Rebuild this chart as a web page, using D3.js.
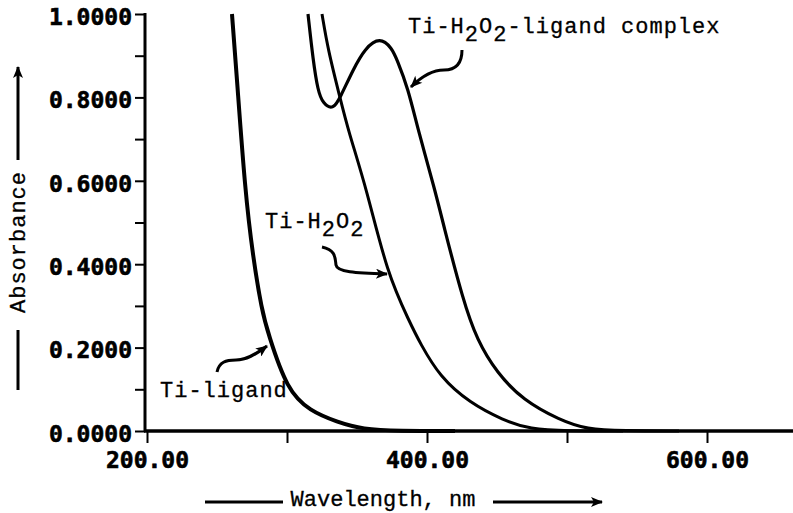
<!DOCTYPE html>
<html lang="en">
<head>
<meta charset="UTF-8">
<script src="https://d3js.org/d3.v7.min.js"></script>
<title>Absorbance spectra</title>
<style>
  body { margin: 0; background: #fff; }
  svg { display: block; }
</style>
</head>
<body>
<script>
  var width = 793;
  var height = 513;

  // spectra: wavelength (nm) and absorbance
  var tiLigandNm  = [260.7, 264.3, 270, 275.7, 282, 286.4, 300, 316.4, 335.7, 354, 380, 420];
  var tiLigandAbs = [1.0, 0.842, 0.578, 0.417, 0.29, 0.235, 0.098, 0.048, 0.022, 0.004, 0, 0];

  var tiH2O2Nm  = [325, 329.3, 337.9, 343.6, 357.1, 371.4, 387.9, 395, 409.3, 430.7, 454.3, 473.6, 500, 540];
  var tiH2O2Abs = [1.0, 0.914, 0.799, 0.722, 0.578, 0.379, 0.259, 0.211, 0.129, 0.067, 0.026, 0.004, 0, 0];

  var complexNm  = [315, 318.6, 322.1, 325.7, 332.9, 337.9, 347.1, 355.7, 366.4, 375, 378.6, 386.4, 393.6, 405.7, 411.4, 425.7, 435.7, 450, 468.6, 495, 514, 540, 580];
  var complexAbs = [1.0, 0.89, 0.815, 0.785, 0.77, 0.799, 0.866, 0.918, 0.945, 0.918, 0.89, 0.823, 0.722, 0.578, 0.499, 0.314, 0.218, 0.139, 0.074, 0.026, 0.004, 0, 0];

  var xTicks = [200, 300, 400, 500, 600];
  var xLabels = [200, 400, 600];
  var yTicks = [0, 0.1, 0.2, 0.3, 0.4, 0.5, 0.6, 0.7, 0.8, 0.9, 1.0];
  var yLabels = [0, 0.2, 0.4, 0.6, 0.8, 1.0];

  var x = d3.scaleLinear().domain([200, 600]).range([147, 707]);
  var y = d3.scaleLinear().domain([0, 1]).range([431, 14]);

  var svg = d3.select("body").append("svg")
    .attr("width", width)
    .attr("height", height);

  var defs = svg.append("defs");
  defs.append("marker")
    .attr("id", "head")
    .attr("viewBox", "0 0 12 10")
    .attr("refX", 11).attr("refY", 5)
    .attr("markerWidth", 13).attr("markerHeight", 10)
    .attr("markerUnits", "userSpaceOnUse")
    .attr("orient", "auto")
    .append("path").attr("d", "M0,0 L12,5 L0,10 L3,5 Z").attr("fill", "#000");

  var tickFont = "'DejaVu Sans Mono', monospace";
  var textFont = "'Liberation Mono', 'Courier New', monospace";

  // y axis
  var yAxis = d3.axisLeft(y)
    .tickValues(yTicks)
    .tickSizeInner(10).tickSizeOuter(0).tickPadding(3)
    .tickFormat(function (d) {
      return yLabels.some(function (v) { return Math.abs(v - d) < 1e-9; }) ? d3.format(".4f")(d) : "";
    });
  var gy = svg.append("g").attr("transform", "translate(145,0)").call(yAxis);
  gy.select(".domain").remove();
  gy.selectAll(".tick line").attr("stroke", "#000").attr("stroke-width", 2);
  gy.selectAll(".tick text")
    .attr("font-family", tickFont).attr("font-weight", "bold")
    .attr("font-size", 23).attr("fill", "#000").attr("dy", "0.45em")
    .attr("stroke", "#000").attr("stroke-width", 0.6);

  // x axis
  var xAxis = d3.axisBottom(x)
    .tickValues(xTicks)
    .tickSizeInner(12).tickSizeOuter(0).tickPadding(9)
    .tickFormat(function (d) { return xLabels.indexOf(d) >= 0 ? d3.format(".2f")(d) : ""; });
  var gx = svg.append("g").attr("transform", "translate(0," + y(0) + ")").call(xAxis);
  gx.select(".domain").remove();
  gx.selectAll(".tick line").attr("stroke", "#000").attr("stroke-width", 2);
  gx.selectAll(".tick text")
    .attr("font-family", tickFont).attr("font-weight", "bold")
    .attr("font-size", 23).attr("fill", "#000")
    .attr("stroke", "#000").attr("stroke-width", 0.6);

  // axis lines
  svg.append("line")
    .attr("x1", 145).attr("x2", 145).attr("y1", y(1) - 1).attr("y2", y(0) + 1)
    .attr("stroke", "#000").attr("stroke-width", 3);
  svg.append("line")
    .attr("x1", 144).attr("x2", width).attr("y1", y(0)).attr("y2", y(0))
    .attr("stroke", "#000").attr("stroke-width", 3.5);

  // curves
  var line = d3.line()
    .x(function (d) { return x(d[0]); })
    .y(function (d) { return y(d[1]); })
    .curve(d3.curveBasis);

  var series = [
    { nm: tiLigandNm, abs: tiLigandAbs, w: 4 },
    { nm: tiH2O2Nm, abs: tiH2O2Abs, w: 3 },
    { nm: complexNm, abs: complexAbs, w: 3.2 }
  ];
  series.forEach(function (s) {
    svg.append("path")
      .datum(d3.zip(s.nm, s.abs))
      .attr("d", line)
      .attr("fill", "none")
      .attr("stroke", "#000")
      .attr("stroke-width", s.w)
      .attr("stroke-linejoin", "round");
  });

  // annotations
  function label(xp, yp, parts) {
    var t = svg.append("text")
      .attr("x", xp).attr("y", yp)
      .attr("font-family", textFont).attr("font-size", 22)
      .attr("letter-spacing", 1).attr("fill", "#000")
      .attr("stroke", "#000").attr("stroke-width", 0.3);
    parts.forEach(function (p) {
      t.append("tspan").attr("dy", p[1]).text(p[0]);
    });
  }
  label(408, 33, [["Ti-H", 0], ["2", 8], ["O", -8], ["2", 8], ["-ligand complex", -8]]);
  label(265, 228, [["Ti-H", 0], ["2", 8], ["O", -8], ["2", 8]]);
  label(160, 397, [["Ti-ligand", 0]]);

  var arrows = [
    "M462,50 C462,63 456,70 444,70 C432,70 421,77 411,87",
    "M322,247 C336,250 335,258 336,265 C337,272 355,273 387,274",
    "M217,372 C219,362 226,360 236,360 C246,360 255,355 267,346"
  ];
  arrows.forEach(function (d) {
    svg.append("path").attr("d", d)
      .attr("fill", "none").attr("stroke", "#000").attr("stroke-width", 3)
      .attr("marker-end", "url(#head)");
  });

  // axis titles
  svg.append("text")
    .attr("x", 383).attr("y", 506)
    .attr("text-anchor", "middle")
    .attr("font-family", textFont).attr("font-size", 22).attr("letter-spacing", 0)
    .attr("stroke", "#000").attr("stroke-width", 0.3)
    .text("Wavelength, nm");
  svg.append("line").attr("x1", 205).attr("x2", 283).attr("y1", 502).attr("y2", 502)
    .attr("stroke", "#000").attr("stroke-width", 3);
  svg.append("line").attr("x1", 493).attr("x2", 602).attr("y1", 502).attr("y2", 502)
    .attr("stroke", "#000").attr("stroke-width", 3).attr("marker-end", "url(#head)");

  svg.append("text")
    .attr("transform", "translate(25,242) rotate(-90)")
    .attr("text-anchor", "middle")
    .attr("font-family", textFont).attr("font-size", 22).attr("letter-spacing", 1)
    .attr("stroke", "#000").attr("stroke-width", 0.3)
    .text("Absorbance");
  svg.append("line").attr("x1", 18).attr("x2", 18).attr("y1", 390).attr("y2", 330)
    .attr("stroke", "#000").attr("stroke-width", 3);
  svg.append("line").attr("x1", 18).attr("x2", 18).attr("y1", 160).attr("y2", 67)
    .attr("stroke", "#000").attr("stroke-width", 3).attr("marker-end", "url(#head)");
</script>
</body>
</html>
